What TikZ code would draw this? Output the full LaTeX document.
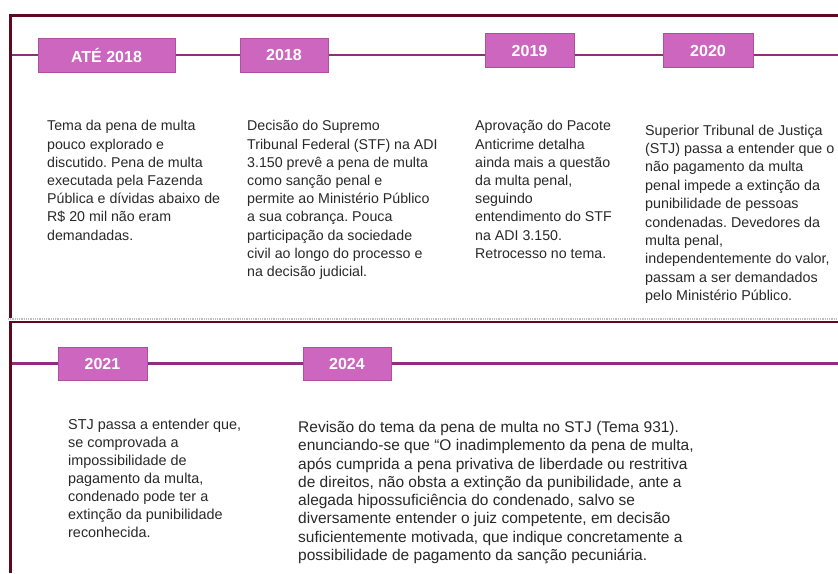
\documentclass[tikz,border=0pt]{standalone}
\usepackage{fontspec}
\setmainfont{Liberation Sans}
\frenchspacing
\definecolor{frame}{RGB}{96,8,32}
\definecolor{tline}{RGB}{145,45,125}
\definecolor{boxfill}{RGB}{204,102,190}
\definecolor{boxedge}{RGB}{178,78,162}
\definecolor{txt}{RGB}{40,40,40}
\definecolor{dotgrey}{RGB}{190,190,190}
\tikzset{
  yearbox/.style={draw=boxedge, line width=0.8pt, fill=boxfill, text=white,
    font=\fontsize{16}{18}\selectfont\bfseries, inner sep=0pt, anchor=center},
  body/.style={anchor=north west, align=left, inner sep=0pt, text=txt,
    font=\fontsize{14.2}{18.2}\selectfont\frenchspacing},
  frameline/.style={draw=frame, line width=3pt},
  timeline/.style={draw=tline, line width=2.4pt}
}
\begin{document}
\begin{tikzpicture}[x=1pt,y=-1pt]
\useasboundingbox (0,0) rectangle (838,573);
% frame
\coordinate (tl) at (9,15.5);
\coordinate (tr) at (838,15.5);
\coordinate (ml) at (10.5,14);
\coordinate (mb) at (10.5,318);
\coordinate (sl) at (9,322);
\coordinate (sr) at (838,322);
\coordinate (bl) at (10.5,320.5);
\coordinate (bb) at (10.5,573);
\coordinate (dl) at (8,318.8);
\coordinate (dr) at (838,318.8);
\draw[frameline] (tl) -- (tr);
\draw[frameline] (ml) -- (mb);
\draw[dotgrey, line width=1.6pt, dash pattern=on 1pt off 0.8pt] (dl) -- (dr);
\draw[frameline, line width=2.6pt] (sl) -- (sr);
\draw[frameline] (bl) -- (bb);
% timelines
\coordinate (t1l) at (12,55);
\coordinate (t1r) at (838,55);
\coordinate (t2l) at (12,363.5);
\coordinate (t2r) at (838,363.5);
\draw[timeline] (t1l) -- (t1r);
\draw[timeline] (t2l) -- (t2r);
% year boxes
\node[yearbox, minimum width=137pt, minimum height=34pt] (y1) at (106.5,55) {ATÉ 2018};
\node[yearbox, minimum width=88pt, minimum height=34pt] (y2) at (284,55) {2018};
\node[yearbox, minimum width=89pt, minimum height=34pt] (y3) at (529.5,50.5) {2019};
\node[yearbox, minimum width=90pt, minimum height=34pt] (y4) at (708,50.5) {2020};
\node[yearbox, minimum width=89pt, minimum height=33pt] (y5) at (102.5,363.5) {2021};
\node[yearbox, minimum width=88pt, minimum height=33pt] (y6) at (347,364) {2024};
% texts
\node[body] (c1) at (47,120.5) {Tema da pena de multa\\pouco explorado e\\discutido. Pena de multa\\executada pela Fazenda\\Pública e dívidas abaixo de\\R\$ 20 mil não eram\\demandadas.};
\node[body] (c2) at (247,120.5) {Decisão do Supremo\\Tribunal Federal (STF) na ADI\\3.150 prevê a pena de multa\\como sanção penal e\\permite ao Ministério Público\\a sua cobrança. Pouca\\participação da sociedade\\civil ao longo do processo e\\na decisão judicial.};
\node[body] (c3) at (475,120.5) {Aprovação do Pacote\\Anticrime detalha\\ainda mais a questão\\da multa penal,\\seguindo\\entendimento do STF\\na ADI 3.150.\\Retrocesso no tema.};
\node[body, font=\fontsize{14.3}{18.4}\selectfont\frenchspacing] (c4) at (645,124.5) {Superior Tribunal de Justiça\\(STJ) passa a entender que o\\não pagamento da multa\\penal impede a extinção da\\punibilidade de pessoas\\condenadas. Devedores da\\multa penal,\\independentemente do valor,\\passam a ser demandados\\pelo Ministério Público.};
\node[body, font=\fontsize{14.4}{18}\selectfont\frenchspacing] (c5) at (68,418.5) {STJ passa a entender que,\\se comprovada a\\impossibilidade de\\pagamento da multa,\\condenado pode ter a\\extinção da punibilidade\\reconhecida.};
\node[body, font=\fontsize{15.5}{18.3}\selectfont\frenchspacing] (c6) at (298,421) {Revisão do tema da pena de multa no STJ (Tema 931).\\enunciando-se que “O inadimplemento da pena de multa,\\após cumprida a pena privativa de liberdade ou restritiva\\de direitos, não obsta a extinção da punibilidade, ante a\\alegada hipossuficiência do condenado, salvo se\\diversamente entender o juiz competente, em decisão\\suficientemente motivada, que indique concretamente a\\possibilidade de pagamento da sanção pecuniária.};
\end{tikzpicture}
\end{document}
